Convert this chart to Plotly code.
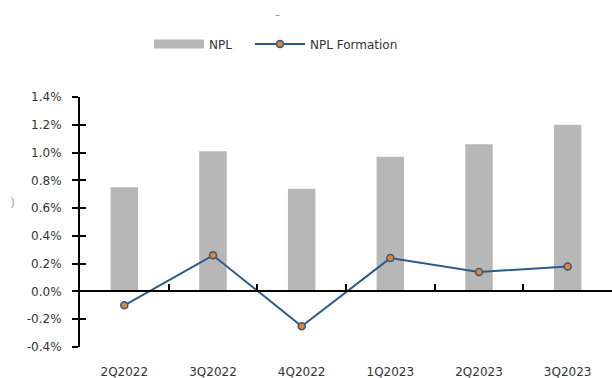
import plotly.graph_objects as go

categories = ["2Q2022", "3Q2022", "4Q2022", "1Q2023", "2Q2023", "3Q2023"]
npl = [0.0075, 0.0101, 0.0074, 0.0097, 0.0106, 0.0120]
npl_formation = [-0.0010, 0.0026, -0.0025, 0.0024, 0.0014, 0.0018]
y_tickvals = [-0.004, -0.002, 0.0, 0.002, 0.004, 0.006, 0.008, 0.010, 0.012, 0.014]
y_ticktext = ["-0.4%", "-0.2%", "0.0%", "0.2%", "0.4%", "0.6%", "0.8%", "1.0%", "1.2%", "1.4%"]

FONT = "DejaVu Sans"
TXT = "#333333"
BAR = "#B7B7B7"
LINE = "#2E5A87"
MARK = "#E8822E"
y_range = [-0.004, 0.014]
zero_pos = (0 - y_range[0]) / (y_range[1] - y_range[0])

fig = go.Figure()
fig.add_trace(go.Bar(x=categories, y=npl, name="NPL", marker=dict(color=BAR, line=dict(width=0)),
                     xaxis="x", yaxis="y2", showlegend=False))
# legend proxy for the bar series (wide flat swatch)
fig.add_trace(go.Scatter(x=[None], y=[None], mode="lines", name="NPL",
                         line=dict(color=BAR, width=9), xaxis="x", yaxis="y",
                         showlegend=True, legend="legend"))
fig.add_trace(go.Scatter(x=categories, y=npl_formation, mode="lines+markers", name="NPL Formation",
                         line=dict(color=LINE, width=2),
                         marker=dict(color=MARK, size=7, line=dict(color=LINE, width=1.5)),
                         xaxis="x2", yaxis="y", showlegend=True, legend="legend2"))

legend_common = dict(orientation="h", xref="container", yref="container", y=1 - 44 / 378,
                     xanchor="left", yanchor="middle", font=dict(size=12, color=TXT),
                     itemwidth=50, bgcolor="rgba(0,0,0,0)")

fig.update_layout(
    width=612, height=378,
    margin=dict(l=80, r=0, t=97, b=31),
    paper_bgcolor="white", plot_bgcolor="white",
    font=dict(family=FONT, size=12, color=TXT),
    bargap=0.69,
    showlegend=True,
    legend=dict(x=(156 - 7) / 612, **legend_common),
    legend2=dict(x=(257 - 7) / 612, **legend_common),
    xaxis=dict(type="category", categoryorder="array", categoryarray=categories,
               showline=False, showgrid=False, zeroline=False,
               ticks="outside", ticklen=14, tickcolor="rgba(0,0,0,0)",
               tickfont=dict(family=FONT, size=12, color=TXT), range=[-0.5, 5.5]),
    xaxis2=dict(type="category", categoryorder="array", categoryarray=categories,
                overlaying="x", matches="x", anchor="free", position=zero_pos, side="bottom",
                showline=True, linecolor="#000000", linewidth=2,
                showgrid=False, zeroline=False, showticklabels=False,
                tickson="boundaries", ticks="inside", ticklen=6, tickwidth=1.5, tickcolor="#000000"),
    yaxis=dict(range=y_range, tickvals=y_tickvals, ticktext=y_ticktext,
               showline=True, linecolor="#000000", linewidth=2,
               ticks="outside", ticklen=6, tickwidth=1.5, tickcolor="#000000",
               ticklabelstandoff=8,
               showgrid=False, zeroline=False,
               tickfont=dict(family=FONT, size=12, color=TXT)),
    yaxis2=dict(range=y_range, overlaying="y", matches="y", side="left", anchor="x",
                tickvals=y_tickvals, showticklabels=False, showline=False,
                ticks="inside", ticklen=6, tickwidth=1.5, tickcolor="#000000",
                showgrid=False, zeroline=False),
    annotations=[
        dict(text="–", xref="paper", yref="paper", x=(277 - 80) / 532, y=1 + (97 - 15) / 250,
             showarrow=False, font=dict(size=10, color="#888888"), xanchor="center", yanchor="middle"),
        dict(text=")", xref="paper", yref="paper", x=-(80 - 12) / 532, y=(347 - 202) / 250,
             showarrow=False, font=dict(size=13, color="#AAAAAA"), xanchor="center", yanchor="middle"),
    ],
)

fig.write_html("out.html")
